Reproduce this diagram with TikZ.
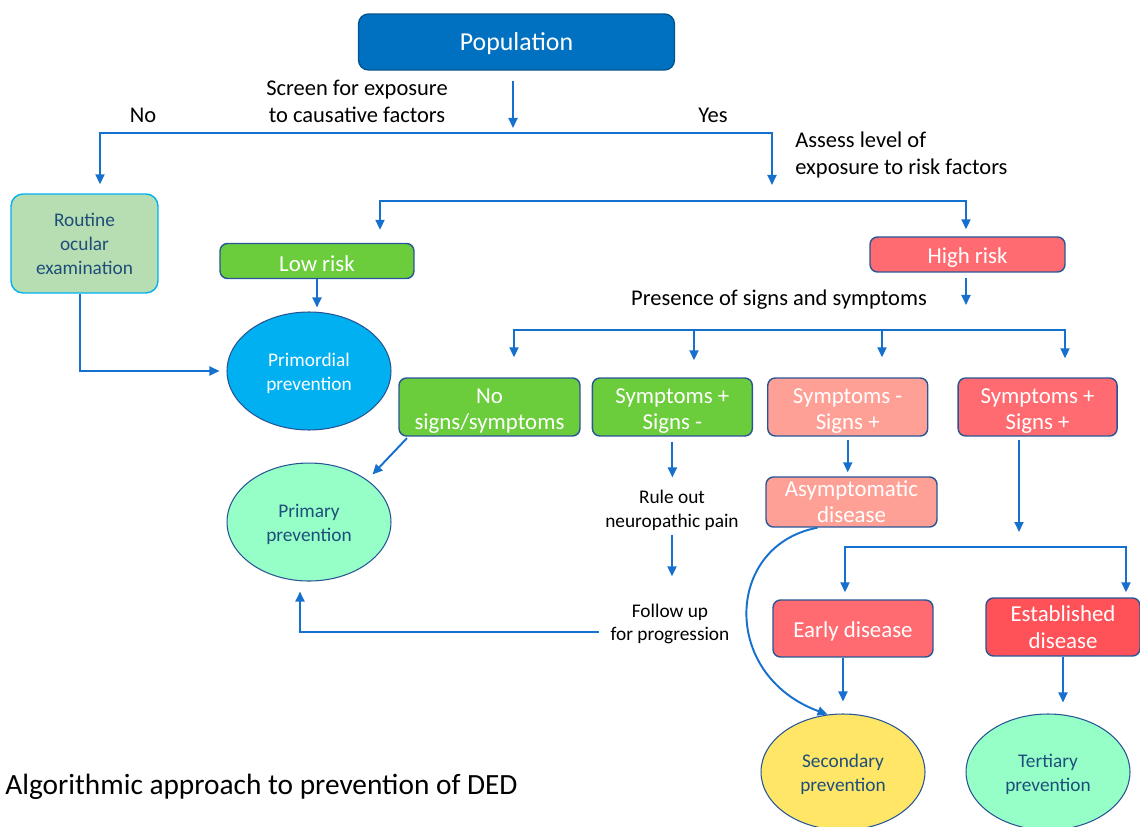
\documentclass[tikz,border=0pt]{standalone}
\usepackage{fontspec}
\setmainfont{Carlito}
\usetikzlibrary{positioning,arrows.meta,shapes.geometric,calc}

\definecolor{popblue}{RGB}{0,112,192}
\definecolor{edgeblue}{RGB}{40,85,150}
\definecolor{arrowblue}{RGB}{22,112,205}
\definecolor{lowgreen}{RGB}{108,205,60}
\definecolor{riskred}{RGB}{255,107,112}
\definecolor{estred}{RGB}{255,82,88}
\definecolor{palesalmon}{RGB}{255,160,150}
\definecolor{skyblue}{RGB}{0,176,240}
\definecolor{mint}{RGB}{150,255,200}
\definecolor{sunyellow}{RGB}{255,230,102}
\definecolor{sage}{RGB}{183,222,178}
\definecolor{inkblue}{RGB}{30,78,121}

% struts that push two-line labels a little lower in their frame
\newcommand{\boxlift}{\rule{0pt}{13pt}}
\newcommand{\ellift}{\rule{0pt}{10.5pt}}

\begin{document}
\begin{tikzpicture}[
    x=0.02cm, y=-0.02cm,
    box/.style={draw=edgeblue, line width=0.8pt, rounded corners=1.5mm, align=center, text=white, inner sep=0pt, font=\fontsize{13}{15.3}\selectfont, execute at begin node={\rule{0pt}{12pt}}},
    prev/.style={ellipse, draw=edgeblue, line width=0.6pt, align=center, text=inkblue, inner sep=0pt, minimum width=3.28cm, minimum height=2.36cm, font=\fontsize{11}{13.6}\selectfont},
    arrow/.style={-{Triangle[length=2mm, width=1.8mm]}, line width=1.1pt, draw=arrowblue},
    txt/.style={align=center, inner sep=0pt, font=\fontsize{12.8}{15.3}\selectfont},
    smalltxt/.style={align=center, inner sep=0pt, font=\fontsize{11}{13.6}\selectfont}
]
\useasboundingbox (0,0) rectangle (1140,827);

% ===== Top =====
\node[box, fill=popblue, draw=popblue!75!black, rounded corners=2mm, minimum width=6.32cm, minimum height=1.12cm, font=\fontsize{14.7}{17}\selectfont] (pop) at (516.5,42) {Population};

\node[txt] (screen) at (357,101) {Screen for exposure\\to causative factors};
\node[txt] (no) at (143,115) {No};
\node[txt] (yes) at (713,115) {Yes};
\node[txt, align=left, anchor=west] (assess) at (795,155) {Assess level of\\exposure to risk factors};

% ===== Risk level =====
\node[box, fill=sage, draw=skyblue, text=inkblue, rounded corners=2.4mm, minimum width=2.94cm, minimum height=1.98cm, font=\fontsize{11}{13.6}\selectfont] (routine) at (84.5,243.5) {Routine\\ocular\\examination};
\node[box, fill=lowgreen, minimum width=3.88cm, minimum height=0.7cm] (low) at (317,261) {Low risk};
\node[box, fill=riskred, minimum width=3.9cm, minimum height=0.7cm] (high) at (967.5,254.5) {High risk};

\node[prev, fill=skyblue, text=white] (primordial) at (309,371) {\ellift Primordial\\prevention};
\node[prev, fill=mint, below=0.64cm of primordial] (primary) {\ellift Primary\\prevention};

% ===== Signs and symptoms =====
\node[txt] (presence) at (779,300) {Presence of signs and symptoms};

\node[box, fill=lowgreen, minimum width=3.62cm, minimum height=1.16cm] (nosigns) at (489.5,407) {\boxlift No\\signs/symptoms};
\node[box, fill=lowgreen, minimum width=3.2cm, minimum height=1.16cm, right=2.2mm of nosigns] (sympm) {\boxlift Symptoms +\\Signs -};
\node[box, fill=palesalmon, minimum width=3.2cm, minimum height=1.16cm, right=2.8mm of sympm] (signp) {\boxlift Symptoms -\\Signs +};
\node[box, fill=riskred, minimum width=3.18cm, minimum height=1.16cm, right=5.8mm of signp] (both) {\boxlift Symptoms +\\Signs +};

\node[smalltxt] (ruleout) at (672,510) {Rule out\\neuropathic pain};
\node[smalltxt] (followup) at (670,624) {Follow up\\for progression};

\node[box, fill=palesalmon, minimum width=3.42cm, minimum height=1cm, font=\fontsize{13}{14.7}\selectfont] (asym) at (851.5,502) {Asymptomatic\\disease};
\node[box, fill=riskred, minimum width=3.2cm, minimum height=1.14cm] (early) at (853,628.5) {Early disease};
\node[box, fill=estred, minimum width=3.08cm, minimum height=1.16cm] (estab) at (1063,627) {Established\\disease};

\node[prev, fill=sunyellow, minimum height=2.32cm] (secondary) at (843,772) {\ellift Secondary\\prevention};
\node[prev, fill=mint, minimum height=2.32cm] (tertiary) at (1048,772) {\ellift Tertiary\\prevention};

\node[txt, anchor=west, font=\fontsize{16.7}{20}\selectfont] (caption) at (5,787) {Algorithmic approach to prevention of DED};

% ===== Split points =====
\coordinate (sp1L) at (100,133);
\coordinate (sp1M) at (513,133);
\coordinate (sp1R) at (772,133);
\coordinate (assessEnd) at (772,185);
\coordinate (sp2L) at (380,201);
\coordinate (sp2R) at (966,201);
\coordinate (presenceEnd) at (966,305);
\coordinate (sp3L) at (514,330);
\coordinate (sp3a) at (694,330);
\coordinate (sp3b) at (882,330);
\coordinate (sp3R) at (1065,330);
\coordinate (bothEnd) at (1019,532);
\coordinate (sp4L) at (845,547);
\coordinate (sp4R) at (1126,547);
\coordinate (followEnd) at (599,632);

% ===== Arrows =====
\draw[arrow, shorten <=2mm, shorten >=1mm] (pop.south -| sp1M) -- (sp1M);
\draw[arrow, shorten >=1.8mm] (sp1R) -- (sp1L) -- (sp1L |- routine.north);
\draw[arrow] (sp1L) -- (sp1R) -- (assessEnd);

\draw[arrow, shorten >=2.6mm] (sp2R) -- (sp2L) -- (sp2L |- low.north);
\draw[arrow, shorten >=1.4mm] (sp2L) -- (sp2R) -- (sp2R |- high.north);

\draw[arrow, shorten >=0.8mm] (low.south) -- (low.south |- primordial.north);
\draw[arrow, shorten >=1.4mm] ([xshift=-0.9mm]routine.south) |- (primordial.west);

\draw[arrow, shorten <=1mm] (presenceEnd |- high.south) -- (presenceEnd);

\draw[arrow, shorten >=4mm] (sp3R) -- (sp3L) -- (sp3L |- nosigns.north);
\draw[arrow, shorten >=3.8mm] (sp3L) -- (sp3R) -- (sp3R |- both.north);
\draw[arrow, shorten >=3.4mm] (sp3a) -- (sp3a |- sympm.north);
\draw[arrow, shorten >=4mm] (sp3b) -- (sp3b |- signp.north);

\draw[arrow, shorten <=0.4mm, shorten >=1.5mm] ([xshift=2mm]nosigns.south west) -- (primary.north east);

\draw[arrow, shorten <=1mm, shorten >=2.4mm] (sympm.south) -- (sympm.south |- ruleout.north);
\draw[arrow, shorten <=0.8mm, shorten >=5.4mm] (ruleout.south) -- (ruleout.south |- followup.north);
\draw[arrow, shorten >=2mm] (followEnd) -| ([xshift=-1.8mm]primary.south);

\draw[arrow, shorten <=0.6mm, shorten >=0.8mm] (signp.south) -- (signp.south |- asym.north);
\draw[arrow, shorten <=0.6mm] (bothEnd |- both.south) -- (bothEnd);

\draw[arrow, shorten >=1.4mm] (sp4R) -- (sp4L) -- (sp4L |- early.north);
\draw[arrow, shorten >=1mm] (sp4L) -- (sp4R) -- (sp4R |- estab.north);

\draw[arrow, shorten >=2.4mm] (secondary.north |- early.south) -- (secondary.north);
\draw[arrow, shorten >=2.2mm] (estab.south) -- (estab.south |- tertiary.north);

% asymptomatic goes straight to secondary prevention
\draw[arrow] ([xshift=-6.8mm]asym.south) .. controls (725,545) and (720,675) .. (secondary.105);

\end{tikzpicture}
\end{document}
